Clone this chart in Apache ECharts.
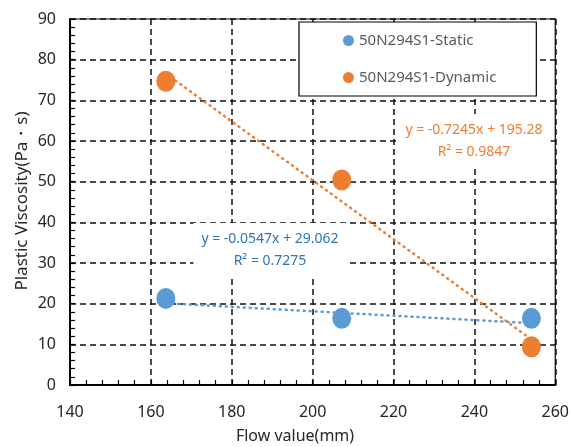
<!DOCTYPE html>
<html>
<head>
<meta charset="utf-8">
<script src="https://cdn.jsdelivr.net/npm/echarts@6/dist/echarts.min.js"></script>
<style>
    html, body { margin: 0; padding: 0; background: #fff; }
    #chart { width: 572px; height: 447px; }
</style>
</head>
<body>
<div id="chart"></div>
<script>
/* ===== 数据 ===== */
const seriesNames = ["50N294S1-Static", "50N294S1-Dynamic"];
const flowValues = [163.7, 207.2, 254.1];
const staticVisc = [21.3, 16.4, 16.4];
const dynamicVisc = [74.7, 50.4, 9.4];
// 趋势线端点
const staticTrend = [[163.7, 20.1], [254.1, 15.2]];
const dynamicTrend = [[163.7, 76.6], [254.1, 11.2]];
const staticEq = ["y = -0.0547x + 29.062", "R² = 0.7275"];
const dynamicEq = ["y = -0.7245x + 195.28", "R² = 0.9847"];

const BLUE = "#5b9bd5";
const ORANGE = "#ed7d31";
const FONT = "Noto Sans";

const pairs = ys => flowValues.map((x, i) => [x, ys[i]]);

const gridLine = { show: true, lineStyle: { color: "#111", type: [6, 4], width: 1.5 } };
const axisCommon = {
    axisLine: { show: true, lineStyle: { color: "#000", width: 2 } },
    axisTick: { show: true, inside: true, length: 5, lineStyle: { color: "#000", width: 1.2 } },
    minorTick: { show: true, splitNumber: 5, length: 5, lineStyle: { color: "#000", width: 1.2 } },
    splitLine: gridLine,
    axisLabel: { color: "#262626", fontSize: 16, fontFamily: FONT },
};

function eqText(lines, color, cx, cy) {
    return {
        type: "text",
        x: cx, y: cy,
        z: 100,
        style: {
            text: lines.join("\n"),
            fill: color,
            font: `14px "${FONT}"`,
            lineHeight: 22,
            align: "center",
            verticalAlign: "middle",
            backgroundColor: "#fff",
            padding: [5, 8, 5, 8],
        },
    };
}

const chart = echarts.init(document.getElementById("chart"));
chart.setOption({
    animation: false,
    grid: { left: 70, right: 14, top: 19, bottom: 62, show: true, borderColor: "#000", borderWidth: 1.2 },
    xAxis: Object.assign({
        type: "value", min: 140, max: 260, interval: 20,
    }, axisCommon, { axisLabel: Object.assign({}, axisCommon.axisLabel, { margin: 19 }) }),
    yAxis: Object.assign({
        type: "value", min: 0, max: 90, interval: 10,
    }, axisCommon, { axisLabel: Object.assign({}, axisCommon.axisLabel, { margin: 14 }) }),
    legend: {
        orient: "vertical",
        left: 299, top: 22,
        data: seriesNames,
        icon: "circle",
        itemWidth: 11, itemHeight: 11, itemGap: 22,
        padding: [11, 40, 11, 44],
        backgroundColor: "#fff",
        borderColor: "#000", borderWidth: 1.2,
        textStyle: { color: "#595959", fontSize: 15, fontFamily: FONT },
    },
    graphic: [
        {
            type: "text", x: 295, y: 436, z: 100,
            style: { text: "Flow value(mm)", fill: "#262626", font: `16px "${FONT}"`, align: "center", verticalAlign: "middle" },
        },
        {
            type: "text", x: 22, y: 201, rotation: Math.PI / 2, z: 100,
            style: { text: "Plastic Viscosity(Pa・s)", fill: "#262626", font: `17px "${FONT}"`, align: "center", verticalAlign: "middle" },
        },
        eqText(staticEq, "#2e75b6", 270, 250),
        eqText(dynamicEq, ORANGE, 474, 141),
    ],
    series: [
        {
            name: seriesNames[0], type: "scatter", data: pairs(staticVisc),
            symbolSize: [19, 21], itemStyle: { color: BLUE, opacity: 1 }, z: 5,
        },
        {
            name: seriesNames[1], type: "scatter", data: pairs(dynamicVisc),
            symbolSize: [19, 21], itemStyle: { color: ORANGE, opacity: 1 }, z: 5,
        },
        {
            type: "line", data: staticTrend, symbol: "none", silent: true, z: 3,
            lineStyle: { color: BLUE, width: 2.5, type: [1, 5], cap: "round" },
        },
        {
            type: "line", data: dynamicTrend, symbol: "none", silent: true, z: 3,
            lineStyle: { color: ORANGE, width: 2.5, type: [1, 5], cap: "round" },
        },
    ],
});
</script>
</body>
</html>
